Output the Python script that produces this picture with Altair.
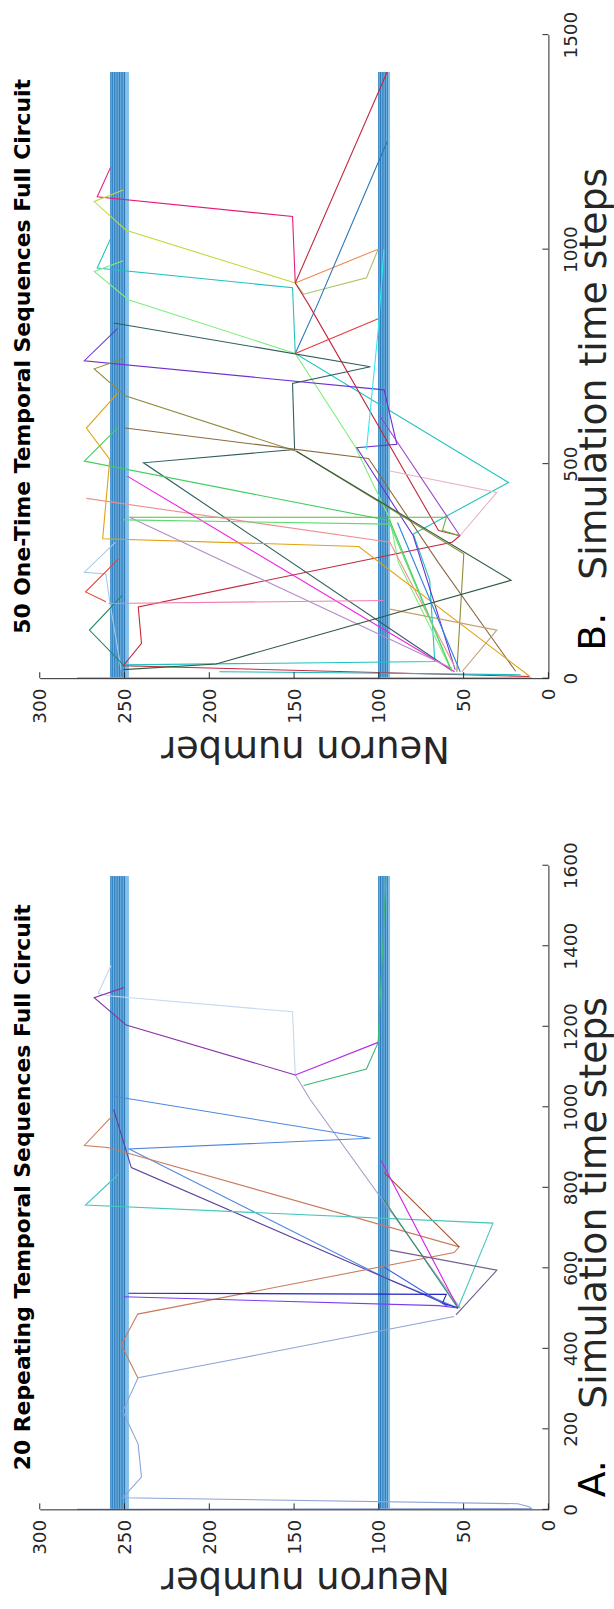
import altair as alt
import pandas as pd

FONT = "DejaVu Sans"
INK = "#262626"

# plot-area sizes (pixels)
W = 511.7
H_B = 647.4
H_A = 648.0

# ---------------- neuron bundles (blue bands of constant neurons) ----------------
band_lo = [247.4, 93.4]
band_hi = [258.6, 100.5]
bundle_neurons = [250, 251, 252, 253, 254, 255, 256, 257, 258, 95, 96, 97, 98, 99, 100]
bundle_end_a = 1573
bundle_end_b = 1413

# ---------------- A. 20 repeating temporal sequences: (time step, neuron) ----------------
A01 = [(0, 278), (2, 10), (6, 11), (14, 18), (29, 251), (80, 240), (162, 242), (244, 251),
       (327, 242), (376, 181), (479, 55.6)]
A02 = [(500, 52), (1018, 140.5), (1079, 149.3)]
A03 = [(1079, 149.3), (1236, 150.9), (1275, 258), (1281, 265.6), (1351, 258)]
A04 = [(1079, 149.3), (1203, 249), (1271, 267.9), (1296, 250.5)]
A05 = [(1053, 144.4), (1094, 107.3), (1160, 100.4), (1570, 95.8)]
A06 = [(1079, 149.3), (1160, 100.4)]
A07 = [(1026, 256.4), (922, 105), (895, 247.3), (574, 95.8), (500, 53.3)]
A08 = [(993, 256.4), (849, 246), (507, 59)]
A09 = [(981, 256.4), (904, 273.7), (899, 259.9), (652, 52.6), (638, 55.6), (485, 242.2),
       (409, 251.9), (327, 242.2)]
A10 = [(837, 97), (652, 52.6)]
A11 = [(833, 253.5), (756, 273), (711, 32.7), (500, 53.3)]
A12 = [(866, 98.6), (500, 53.3)]
A13 = [(771, 97.4), (500, 53.3)]
A14 = [(644, 93.5), (594, 30.4), (483, 54.5)]
A15 = [(537, 247.7), (534, 60.2), (512, 62.5), (500, 53.3)]
A16 = [(528, 250.5), (506, 64.8), (500, 53.3)]
A17 = [(602, 97), (505, 60)]
seq_a = [A01, A02, A03, A04, A05, A06, A07, A08, A09, A10, A11, A12, A13, A14, A15, A16, A17]
col_a = ["#8fa3d6", "#a89cc4", "#c6d9ef", "#8a33a8", "#3cb878", "#b030e8", "#4f86e0",
         "#5b3f9e", "#c87c5e", "#a0522d", "#45c6bd", "#d21ee8", "#2e8b6a", "#6f5f8f",
         "#2323c8", "#7b3cf0", "#3a5ee0"]

# ---------------- B. 50 one-time temporal sequences: (time step, neuron) ----------------
B01 = [(1190, 258.3), (1122, 266.1), (1076, 150.9), (921, 149.3)]
B02 = [(1138, 250.7), (1111, 267.9), (1044, 249.1), (921, 149.3)]
B03 = [(1024, 258.3), (956, 266.1), (910, 150.9), (757, 149.3), (456, 23.5), (336, 79.7),
       (228, 70), (39, 67), (31, 251)]
B04 = [(973, 250.7), (948, 267.9), (882, 247.7), (757, 149.3), (540, 114), (371, 93.5),
       (270, 88.5), (16, 57)]
B05 = [(921, 149.3), (1000, 100.4)]
B06 = [(921, 149.3), (895, 144.4), (933, 107.3), (1000, 100.4)]
B07 = [(1251, 95.1), (873, 136), (757, 149.3)]
B08 = [(1413, 95.1), (921, 149.3), (873, 141.7), (344, 64.8), (332, 52.2), (317, 56.8),
       (166, 241.9), (81, 240), (29, 250.7), (4, 11.3)]
B09 = [(828, 256.4), (726, 105), (687, 150.9), (533, 149.7), (502, 238.8), (19, 57.3)]
B10 = [(815, 254.2), (740, 273.7), (672, 96.9), (545, 89.4), (537, 113), (332, 79.7), (20, 55)]
B11 = [(745, 250.7), (721, 267.9), (658, 249.6), (529, 148.6), (290, 49.9), (15, 54)]
B12 = [(583, 249.6), (512, 106.1), (270, 65), (16, 19.3)]
B13 = [(583, 254.2), (506, 273.7), (367, 93.5), (16, 57)]
B14 = [(375, 247.3), (375, 60.2), (344, 62.5), (332, 52.2)]
B15 = [(419, 272.5), (317, 93.5), (25, 55)]
B16 = [(471, 248.4), (15, 55.3)]
B17 = [(664, 254.2), (583, 272.5), (510, 258.7), (325, 262.9), (307, 111.9), (4, 10.9)]
B18 = [(483, 93.5), (433, 30.4), (332, 52.2)]
B19 = [(1000, 97), (811, 100.4), (533, 107.3)]
B20 = [(610, 99.2), (332, 52.2)]
B21 = [(317, 255.3), (247, 273.7), (243, 261), (178, 258.7), (20, 252)]
B22 = [(278, 253.5), (201, 273), (178, 261)]
B23 = [(193, 251.4), (112, 270.7), (31, 250.7)]
B24 = [(375, 247), (23, 57)]
B25 = [(161, 93.5), (112, 30.4), (15, 51)]
B26 = [(20, 250.7), (33, 196), (228, 22), (529, 148.6)]
B27 = [(1, 278), (1, 10)]
B28 = [(15, 194), (12, 110), (8, 16.4)]
B29 = [(174, 259.5), (181, 97.3)]
B30 = [(363, 89), (15, 52)]
B31 = [(757, 149.3), (838, 100.4)]
B32 = [(369, 250.7), (359, 93.5), (16, 57)]
seq_b = [B01, B02, B03, B04, B05, B06, B07, B08, B09, B10, B11, B12, B13, B14, B15, B16,
         B17, B18, B19, B20, B21, B22, B23, B24, B25, B26, B27, B28, B29, B30, B31, B32]
col_b = ["#e8197a", "#c2d838", "#1fc2c0", "#7eef7e", "#f08a50", "#a8c060", "#2a78b8",
         "#c2283e", "#2f5f5f", "#7030d0", "#8f8a3a", "#8b6a42", "#3fcf5f", "#62b832",
         "#ee9090", "#f01ee0", "#e0a210", "#e8b4c4", "#30e8f0", "#9a44c8", "#a6c8e8",
         "#e04a30", "#1f8a66", "#b48cc8", "#c4a070", "#2e5a40", "#c88ad8", "#20b8c0",
         "#f080b0", "#3080e0", "#e83a3a", "#5adc6e"]

neuron_ticks = [0, 50, 100, 150, 200, 250, 300]
time_ticks_a = [0, 200, 400, 600, 800, 1000, 1200, 1400, 1600]
time_ticks_b = [0, 500, 1000, 1500]


def line_table(series, colors):
    rows = []
    for k, (pts, c) in enumerate(zip(series, colors)):
        for i, (t, n) in enumerate(pts):
            rows.append({"s": f"s{k:02d}", "c": c, "t": t, "n": n, "i": i})
    return pd.DataFrame(rows)


def panel(series, colors, t_max, t_ticks, H, bundle_end, letter, letter_y, title,
          time_title_y, with_frame=False):
    x_axis = alt.Axis(values=neuron_ticks, format="d", labelAngle=270, labelAlign="right",
                      labelBaseline="middle", labelPadding=10, labelFontSize=18.5,
                      labelFont=FONT, labelColor=INK, labelFlush=False, labelOverlap=False,
                      ticks=False, grid=False, domainColor=INK, domainWidth=1, zindex=1,
                      title="Neuron number", titleAngle=180, titleFontSize=37,
                      titleFont=FONT, titleFontWeight="normal", titleColor=INK,
                      titleX=266.7, titleY=58.3, titleAlign="center",
                      titleBaseline="alphabetic")
    y_axis = alt.Axis(orient="right", values=t_ticks, format="d", labelAngle=270,
                      labelAlign="center", labelBaseline="top", labelPadding=13,
                      labelFontSize=18.5, labelFont=FONT, labelColor=INK, labelFlush=False,
                      labelOverlap=False, ticks=False, grid=False, domainColor=INK,
                      domainWidth=1, zindex=1,
                      title="Simulation time steps", titleAngle=270, titleFontSize=38,
                      titleFont=FONT, titleFontWeight="normal", titleColor=INK,
                      titleX=57, titleY=time_title_y, titleAlign="center",
                      titleBaseline="alphabetic")
    x_enc = alt.X("n:Q", scale=alt.Scale(domain=[0, 300], reverse=True, nice=False),
                  axis=x_axis)
    y_enc = alt.Y("t:Q", scale=alt.Scale(domain=[0, t_max], nice=False), axis=y_axis)

    layers = []
    if with_frame:
        # white backdrop spanning the whole page, anchoring the figure's origin
        layers.append(
            alt.Chart(pd.DataFrame({"k": [0]})).mark_rect(color="white").encode(
                x=alt.value(-39.3), x2=alt.value(614 - 39.3),
                y=alt.value(-29.3), y2=alt.value(1609 - 29.3)))

    bands = pd.DataFrame({"n": band_lo, "n2": band_hi, "t": [0, 0],
                          "t2": [bundle_end, bundle_end]})
    layers.append(alt.Chart(bands).mark_rect(color="#86c0e8").encode(
        x=x_enc, x2=alt.X2("n2:Q"), y=y_enc, y2=alt.Y2("t2:Q")))

    rules = pd.DataFrame({"n": bundle_neurons, "t": [0] * len(bundle_neurons),
                          "t2": [bundle_end] * len(bundle_neurons)})
    layers.append(alt.Chart(rules).mark_rule(color="#1f72b6", strokeWidth=0.9).encode(
        x=x_enc, y=y_enc, y2=alt.Y2("t2:Q")))

    layers.append(alt.Chart(line_table(series, colors)).mark_line(strokeWidth=1.1).encode(
        x=x_enc, y=y_enc, detail="s:N",
        color=alt.Color("c:N", scale=None),
        order=alt.Order("i:Q")))

    # inward tick marks
    layers.append(alt.Chart(pd.DataFrame({"n": neuron_ticks})).mark_rule(
        color=INK, strokeWidth=1).encode(x=x_enc, y=alt.value(H), y2=alt.value(H - 6)))
    layers.append(alt.Chart(pd.DataFrame({"t": t_ticks})).mark_rule(
        color=INK, strokeWidth=1).encode(y=y_enc, x=alt.value(W - 6), x2=alt.value(W)))

    layers.append(alt.Chart(pd.DataFrame({"label": [title]})).mark_text(
        angle=270, font=FONT, fontWeight="bold", fontSize=22, align="center",
        baseline="alphabetic", color="black").encode(
        text="label:N", x=alt.value(-10), y=alt.value(H / 2)))
    layers.append(alt.Chart(pd.DataFrame({"label": [letter]})).mark_text(
        angle=270, font=FONT, fontSize=38, align="center", baseline="alphabetic",
        color="black").encode(text="label:N", x=alt.value(W + 57), y=alt.value(letter_y)))

    return alt.layer(*layers).properties(width=W, height=H)


panel_b = panel(seq_b, col_b, 1500, time_ticks_b, H_B, bundle_end_b, "B.", 600.7,
                "50 One-Time Temporal Sequences Full Circuit", 340.7, with_frame=True)
panel_a = panel(seq_a, col_a, 1600, time_ticks_a, H_A, bundle_end_a, "A.", 617.2,
                "20 Repeating Temporal Sequences Full Circuit", 339.2)

chart = alt.vconcat(panel_b, panel_a, spacing=187.6, bounds="flush").properties(
    padding=0, background="white"
).configure_view(stroke="transparent")

chart.save("out.html", embed_options={"renderer": "svg", "actions": False})
